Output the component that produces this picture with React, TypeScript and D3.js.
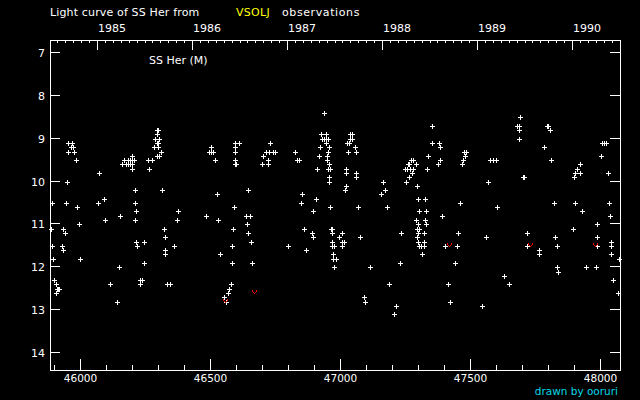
import React from "react";
import * as d3 from "d3";

// [JD - 2400000, visual magnitude]
const observations: [number, number][] = [
  [45953, 9.1], [45969, 9.1], [45965, 9.2], [45972, 9.2], [45953, 9.3], [45976, 9.3],
  [45984, 9.5], [46072, 9.8], [45949, 10.0], [45892, 10.5], [45945, 10.5], [45988, 10.6],
  [45888, 11.1], [45934, 11.1], [45942, 11.2], [45892, 11.5], [45930, 11.5], [45934, 11.6],
  [45895, 11.8], [45999, 11.8], [45899, 12.3], [45907, 12.4], [45911, 12.5], [45915, 12.5],
  [45919, 12.5], [45907, 12.6], [45995, 11.0], [46092, 10.4], [46068, 10.5], [46095, 10.9],
  [46149, 12.0], [46115, 12.4], [46142, 12.8],
  [46168, 9.5], [46184, 9.5], [46192, 9.5], [46199, 9.5], [46207, 9.5],
  [46161, 9.6], [46176, 9.6], [46184, 9.6], [46192, 9.6], [46199, 9.6],
  [46199, 9.4], [46199, 9.7], [46211, 10.2], [46211, 10.5], [46215, 10.7], [46153, 10.8],
  [46211, 10.9], [46215, 11.4], [46218, 11.5], [46245, 11.4], [46245, 11.9], [46230, 12.3],
  [46238, 12.3], [46230, 12.4], [46261, 9.5], [46276, 9.5], [46265, 9.7],
  [46295, 8.8], [46299, 8.8], [46295, 8.9], [46288, 9.0], [46303, 9.0], [46295, 9.1],
  [46299, 9.1], [46284, 9.2], [46299, 9.2], [46311, 9.3], [46295, 9.4], [46303, 9.4],
  [46315, 10.2], [46322, 11.1], [46326, 11.3], [46361, 11.5], [46326, 11.6], [46326, 11.7],
  [46334, 12.4], [46345, 12.4], [46376, 10.7], [46372, 10.9], [46484, 10.8],
  [46503, 9.2], [46495, 9.3], [46503, 9.3], [46511, 9.3], [46518, 9.5], [46526, 10.3],
  [46530, 10.9], [46538, 11.7], [46588, 11.1], [46584, 11.5], [46584, 11.9], [46580, 12.4],
  [46572, 12.5], [46568, 12.6], [46553, 12.7], [46561, 12.8], [46595, 9.1], [46611, 9.1],
  [46595, 9.2], [46595, 9.3], [46595, 9.5], [46595, 9.6], [46599, 9.6], [46592, 10.6],
  [46938, 8.4], [46730, 9.1], [46703, 9.4], [46715, 9.3], [46726, 9.3], [46742, 9.3],
  [46749, 9.3], [46722, 9.5], [46699, 9.6], [46722, 9.6], [46826, 9.3], [46834, 9.5],
  [46842, 9.5], [46911, 9.7], [46926, 8.9], [46945, 8.9], [46930, 9.0], [46938, 9.0],
  [46945, 9.0], [46953, 9.0], [46945, 9.1], [46922, 9.2], [46957, 9.2], [46953, 9.3],
  [46918, 9.4], [46949, 9.4], [46949, 9.5], [46957, 9.6], [46953, 9.7], [46961, 9.7],
  [46957, 9.9], [46957, 10.0], [47038, 8.9], [47045, 8.9], [47038, 9.0], [47045, 9.0],
  [47026, 9.1], [47034, 9.1], [47057, 9.2], [47030, 9.3], [47061, 9.3], [47022, 9.7],
  [47022, 9.8], [47061, 9.8], [47061, 9.9], [47022, 10.1], [47018, 10.2], [47165, 10.0],
  [47172, 10.2], [47157, 10.3], [47180, 10.6], [46645, 10.2], [46638, 10.8], [46653, 10.8],
  [46642, 11.0], [46645, 11.2], [46657, 11.4], [46661, 11.9], [46799, 11.5], [46853, 10.3],
  [46907, 10.4], [46849, 10.5], [46895, 10.7], [46961, 10.6], [47068, 10.6], [46861, 11.1],
  [46891, 11.2], [46895, 11.3], [46868, 11.6], [46965, 11.1], [46968, 11.1], [46968, 11.2],
  [46968, 11.4], [46968, 11.5], [46976, 11.5], [46995, 11.3], [47007, 11.2], [47007, 11.4],
  [47015, 11.4], [47007, 11.5], [47076, 11.3], [46972, 11.7], [46972, 11.8], [46984, 11.8],
  [46976, 12.0], [47115, 12.0], [47188, 12.4], [47091, 12.7], [47095, 12.8],
  [47353, 8.7], [47353, 9.1], [47380, 9.1], [47384, 9.2], [47338, 9.4], [47384, 9.5],
  [47376, 9.6], [47334, 9.7], [47476, 9.3], [47484, 9.3], [47480, 9.4], [47472, 9.5],
  [47468, 9.6], [47272, 9.5], [47280, 9.5], [47261, 9.6], [47265, 9.6], [47291, 9.6],
  [47249, 9.7], [47257, 9.7], [47268, 9.7], [47280, 9.7], [47276, 9.8], [47265, 9.9],
  [47253, 10.0], [47295, 10.1], [47299, 10.4], [47326, 10.4], [47303, 10.7], [47330, 10.7],
  [47291, 10.9], [47326, 10.9], [47299, 11.0], [47330, 11.0], [47295, 11.1], [47303, 11.1],
  [47299, 11.2], [47322, 11.2], [47295, 11.3], [47299, 11.4], [47322, 11.4], [47303, 11.5],
  [47311, 11.5], [47322, 11.5], [47314, 11.7], [47391, 10.8], [47461, 10.5], [47453, 11.2],
  [47403, 11.5], [47449, 11.5], [47441, 11.9], [47414, 12.4], [47422, 12.8], [47230, 11.9],
  [47214, 12.9], [47207, 13.1], [47234, 11.2],
  [47691, 8.5], [47680, 8.7], [47688, 8.7], [47688, 8.8], [47688, 9.0], [47795, 8.7],
  [47799, 8.7], [47807, 8.8], [47784, 9.2], [47811, 9.5], [48007, 9.1], [48014, 9.1],
  [48022, 9.1], [48003, 9.4], [48030, 9.8], [47922, 9.6], [47911, 9.7], [47903, 9.8],
  [47922, 9.8], [47899, 9.9], [47576, 9.5], [47588, 9.5], [47599, 9.5], [47568, 10.0],
  [47703, 9.9], [47707, 9.9], [47603, 10.6], [47822, 10.5], [47903, 10.5], [48034, 10.5],
  [47930, 10.7], [48037, 10.8], [47987, 11.0], [47895, 11.1], [47561, 11.3], [47718, 11.2],
  [47718, 11.5], [47764, 11.6], [47764, 11.7], [47826, 11.3], [47834, 11.5], [47987, 11.3],
  [47987, 11.5], [48041, 11.4], [48041, 11.5], [48041, 11.7], [48072, 11.8], [47834, 12.0],
  [47838, 12.1], [47945, 12.0], [47984, 12.0], [47630, 12.2], [47649, 12.4], [47545, 12.9],
  [48049, 12.3], [48068, 12.6],
];

// "fainter than" estimates (red marks)
const fainterThan: [number, number][] = [
  [46557, 12.8], [46668, 12.6], [47418, 11.5], [47730, 11.5], [47980, 11.5],
];

const magTicks = [7, 8, 9, 10, 11, 12, 13, 14];
const jdMajorTicks = [46000, 46500, 47000, 47500, 48000];
const yearTicks = [1985, 1986, 1987, 1988, 1989, 1990];

const W = 640;
const H = 400;
const L = 50, R = 620, T = 40, B = 370;
const FONT = "'DejaVu Sans', Verdana, sans-serif";

export default function App() {
  const x = d3.scaleLinear().domain([45882, 48074]).range([L, R]);
  const xYear = d3.scaleLinear().domain([1984.5, 1990.5]).range([L, R]);
  const y = d3.scaleLinear().domain([6.71, 14.41]).range([T, B]);

  const px = (v: number) => Math.floor(v) + 0.5;

  const jdMinor = d3.range(45900, 48074, 100).filter((d) => d % 500 !== 0);
  const months = d3.range(1, 72).map((k) => 1984.5 + k / 12).filter((v) => Math.abs(v - Math.round(v)) > 1e-6);

  let ticks = "";
  magTicks.forEach((m) => {
    const yy = px(y(m));
    ticks += `M${L},${yy}h10M${R - 10},${yy}h10`;
  });
  jdMajorTicks.forEach((d) => {
    const xx = px(x(d));
    ticks += `M${xx},${B}v-11`;
  });
  jdMinor.forEach((d) => {
    const xx = px(x(d));
    ticks += `M${xx},${B}v-5`;
  });
  yearTicks.forEach((yr) => {
    const xx = px(xYear(yr));
    ticks += `M${xx},${T}v10`;
  });
  months.forEach((m) => {
    const xx = px(xYear(m));
    ticks += `M${xx},${T}v3`;
  });

  let crosses = "";
  observations.forEach(([jd, mag]) => {
    const cx = Math.floor(x(jd));
    const cy = Math.floor(y(mag) + 1);
    crosses += `M${cx - 2},${cy + 0.5}h5M${cx + 0.5},${cy - 2}v5`;
  });

  let vees = "";
  fainterThan.forEach(([jd, mag]) => {
    const cx = Math.floor(x(jd));
    const cy = Math.floor(y(mag) + 1);
    vees += `M${cx - 2},${cy - 3}h1v2h-1zM${cx + 2},${cy - 3}h1v2h-1zM${cx - 1},${cy - 1}h1v1h-1zM${cx + 1},${cy - 1}h1v1h-1zM${cx},${cy}h1v1h-1z`;
  });

  return (
    <svg
      width={W}
      height={H}
      style={{ position: "absolute", left: 0, top: 0, background: "#000", display: "block" }}
      fontFamily={FONT}
      fontSize={11}
    >
      <rect x={0} y={0} width={W} height={H} fill="#000" />
      <text x={50} y={16} fill="#fff" letterSpacing={0.15}>Light curve of SS Her from</text>
      <text x={236} y={16} fill="#ffff00" letterSpacing={0.3}>VSOLJ</text>
      <text x={282} y={16} fill="#fff" letterSpacing={0.6}>observations</text>

      {yearTicks.map((yr) => (
        <text key={yr} x={Math.floor(xYear(yr)) + 1} y={32} fill="#fff">{yr}</text>
      ))}

      <rect x={L + 0.5} y={T + 0.5} width={R - L} height={B - T} fill="none" stroke="#fff" shapeRendering="crispEdges" />
      <path d={ticks} stroke="#fff" strokeWidth={1} fill="none" shapeRendering="crispEdges" />

      {magTicks.map((m) => (
        <text key={m} x={45} y={Math.floor(y(m)) + 5} fill="#fff" textAnchor="end">{m}</text>
      ))}
      {jdMajorTicks.map((d) => (
        <text key={d} x={Math.floor(x(d)) + 0.5} y={381.5} fill="#fff" textAnchor="middle" fontSize={10.5}>{d}</text>
      ))}

      <text x={149} y={64} fill="#fff">SS Her (M)</text>

      <path d={crosses} stroke="#fff" strokeWidth={1} fill="none" shapeRendering="crispEdges" />
      <path d={vees} fill="#ff0000" stroke="none" shapeRendering="crispEdges" />

      <text x={618} y={395} fill="#00d8e8" textAnchor="end" fontSize={10.5}>drawn by ooruri</text>
    </svg>
  );
}
